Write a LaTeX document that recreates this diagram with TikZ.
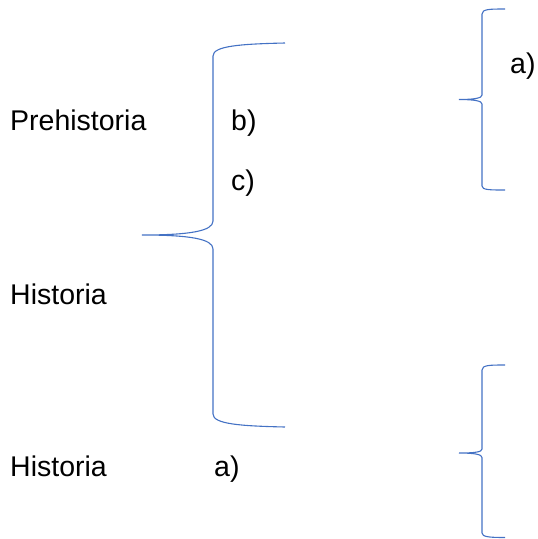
\documentclass[tikz,border=0pt]{standalone}
\usepackage{fontspec}
\setmainfont{Liberation Sans}
\definecolor{bracecol}{RGB}{68,114,196}
\begin{document}
\begin{tikzpicture}[x=1pt,y=-1pt,
  lbl/.style={anchor=base west,inner sep=0pt,font=\fontsize{28.5}{34}\selectfont,text=black},
  bracel/.style={draw=bracecol,line width=1.1pt}]
\useasboundingbox (0,0) rectangle (538,539);
% texts
\node[lbl] (pre) at (10,130) {Prehistoria};
\node[lbl] (b) at (231,130) {b)};
\node[lbl] (c) at (231,190) {c)};
\node[lbl] (hist1) at (10,304) {Historia};
\node[lbl] (hist2) at (10,476) {Historia};
\node[lbl] (a1) at (214,476) {a)};
\node[lbl] (a2) at (510,73) {a)};
% big brace
\path[bracel] (285,43) .. controls (240,44) and (213,46) .. (213,56)
  -- (213,221) .. controls (213,231) and (190,235) .. (142,235)
  .. controls (190,235) and (213,239) .. (213,249)
  -- (213,414) .. controls (213,424) and (240,426) .. (285,427);
% top right brace
\path[bracel] (505,9) .. controls (490,9) and (482,9) .. (482,14)
  -- (482,95) .. controls (482,98) and (475,99.5) .. (459,99.5)
  .. controls (475,99.5) and (482,101) .. (482,104)
  -- (482,186) .. controls (482,190) and (490,190) .. (505,190);
% bottom right brace
\path[bracel] (505,365) .. controls (490,365) and (482,365) .. (482,370)
  -- (482,449) .. controls (482,452) and (475,453) .. (459,453)
  .. controls (475,453) and (482,454.5) .. (482,457.5)
  -- (482,533) .. controls (482,537) and (490,537.5) .. (505,537.5);
\end{tikzpicture}
\end{document}
